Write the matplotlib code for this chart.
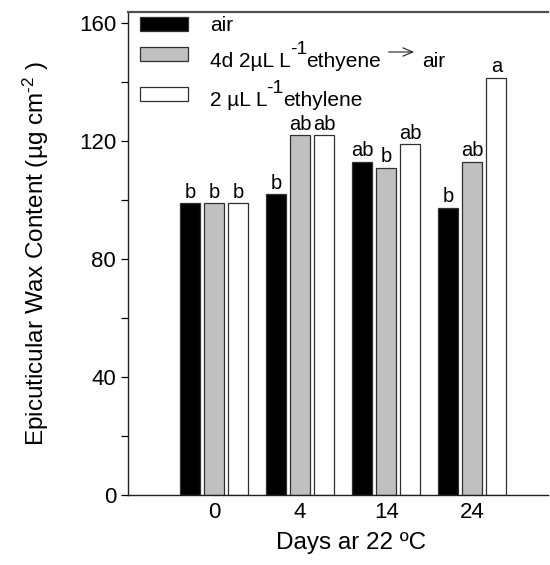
import numpy as np
import matplotlib
matplotlib.use("Agg")
import matplotlib.pyplot as plt
from matplotlib.patches import Rectangle, FancyArrowPatch

plt.rcParams['font.family'] = ['Liberation Sans', 'DejaVu Sans']
plt.rcParams['mathtext.fontset'] = 'custom'
plt.rcParams['mathtext.rm'] = 'Liberation Sans'
plt.rcParams['mathtext.it'] = 'Liberation Sans'

# data
days = ['0', '4', '14', '24']
air = [99, 102, 113, 97.5]
eth_then_air = [99, 122, 111, 113]
ethylene = [99, 122, 119, 141.5]
lab_air = ['b', 'b', 'ab', 'b']
lab_eth_air = ['b', 'ab', 'b', 'ab']
lab_eth = ['b', 'ab', 'ab', 'a']

series = [(air, lab_air, 'black'),
          (eth_then_air, lab_eth_air, '#c0c0c0'),
          (ethylene, lab_eth, 'white')]

W, H = 550, 565
fig = plt.figure(figsize=(W / 100, H / 100), dpi=100)
ax = fig.add_axes([128 / W, 1 - 495 / H, 420 / W, 483 / H])

x = np.arange(len(days))
width = 0.233
step = 0.279
for i, (vals, labs, col) in enumerate(series):
    xs = x + (i - 1) * step
    ax.bar(xs, vals, width, color=col, edgecolor='#303030', linewidth=0.9)
    for xi, v, t in zip(xs, vals, labs):
        ax.text(xi, v + 0.5, t, ha='center', va='bottom', fontsize=14.5)

ax.set_xlim(-1.0, 3.88)
ax.set_ylim(0, 163.8)
ax.set_xticks(x)
ax.set_xticklabels(days, fontsize=16)
ax.set_yticks([0, 40, 80, 120, 160])
ax.set_yticks([20, 60, 100, 140], minor=True)
ax.tick_params(axis='y', which='both', direction='out', length=5, width=0.9,
               labelsize=16, pad=3.5)
ax.tick_params(axis='x', length=0, pad=5)
ax.spines['right'].set_visible(False)
for s in ['left', 'bottom', 'top']:
    ax.spines[s].set_linewidth(1.0)
    ax.spines[s].set_color('#202020')
ax.spines['top'].set_color('#505050')
ax.spines['top'].set_linewidth(1.6)

ax.set_xlabel('Days ar 22 ºC', fontsize=17.5)
ax.xaxis.set_label_coords(0.531, -0.077)
ax.set_ylabel('Epicuticular Wax Content (µg cm$^{\\text{-2}}$ )', fontsize=17.5)
ax.yaxis.label.set_verticalalignment('center')
ax.yaxis.set_label_coords(-0.219, 0.5)

# hand-made legend
def fx(px):
    return px / W

def fy(py):
    return 1 - py / H

renderer = fig.canvas.get_renderer()

def pieces(x0, base, parts):
    # parts: (text, size, raise in px); placed one after the other
    xp = x0
    for s, size, dy in parts:
        t = fig.text(fx(xp), fy(base + dy), s, fontsize=size, va='baseline')
        xp = t.get_window_extent(renderer).x1 - 1
    return xp

patch_tops = [17, 47, 87]
for (vals, labs, col), top in zip(series, patch_tops):
    fig.patches.append(Rectangle((fx(140), fy(top + 14)), 48 / W, 14 / H,
                                 transform=fig.transFigure, facecolor=col,
                                 edgecolor='#303030', linewidth=0.9))
pieces(210, 31, [('air', 15, 0)])
end2 = pieces(210, 67, [('4d 2µL L', 15, 0), ('-1', 14, -13), ('ethyene', 15, 0)])
fig.add_artist(FancyArrowPatch(
    (fx(end2 + 6), fy(52)), (fx(end2 + 37), fy(52)), transform=fig.transFigure,
    arrowstyle='->,head_length=7,head_width=3', linewidth=0.8, color='#202020',
    mutation_scale=1))
pieces(end2 + 42, 67, [('air', 15, 0)])
pieces(210, 106, [('2 µL L', 15, 0), ('-1', 14, -13), ('ethylene', 15, 0)])

fig.savefig('out.png', dpi=100)
